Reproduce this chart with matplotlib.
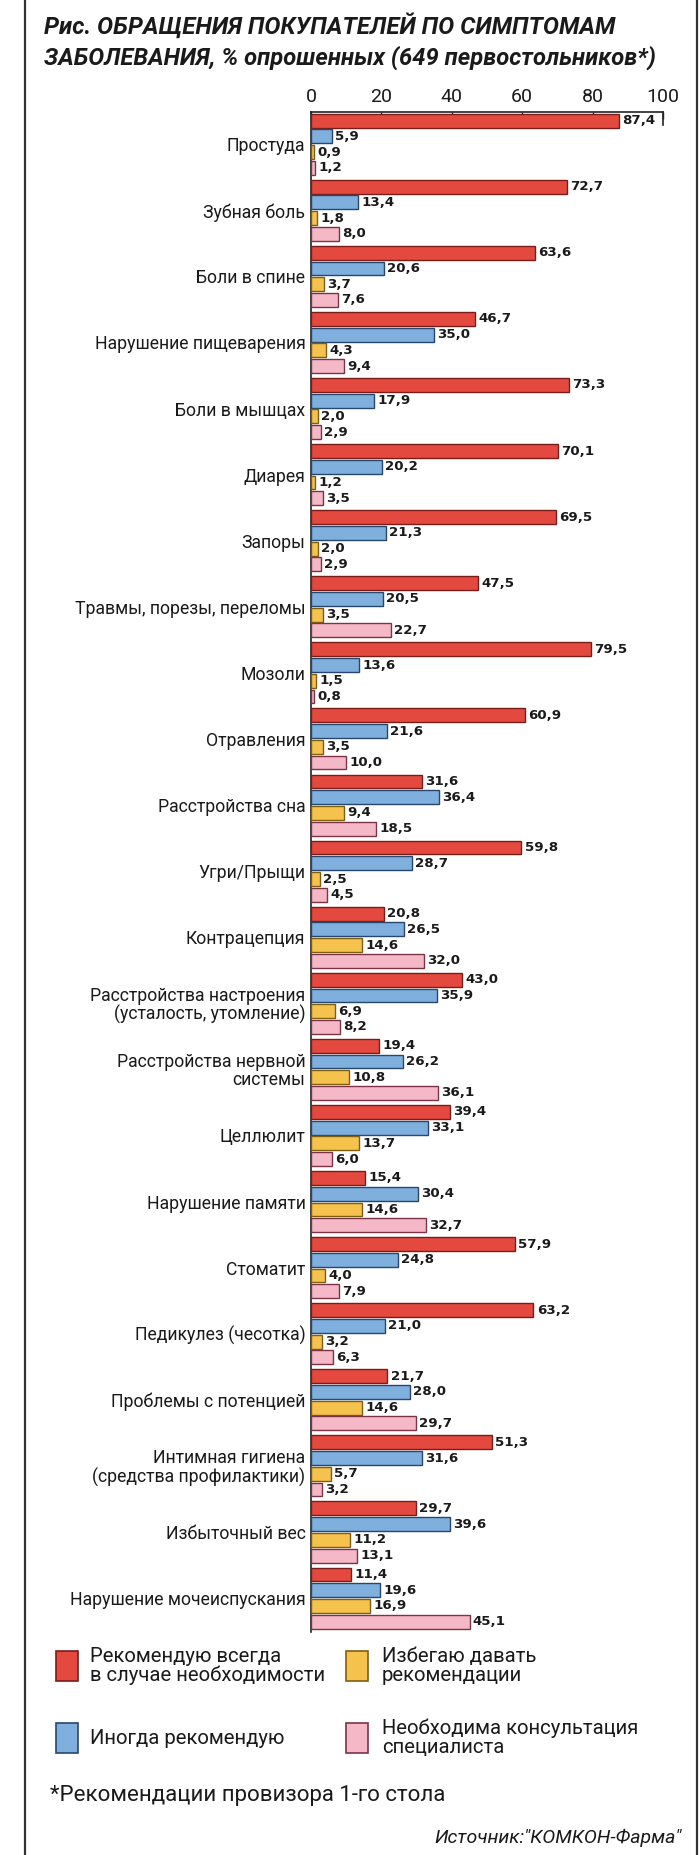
import matplotlib
matplotlib.use("Agg")
import matplotlib.pyplot as plt
from matplotlib.patches import Rectangle
from matplotlib.lines import Line2D

categories = [
    "Простуда", "Зубная боль", "Боли в спине", "Нарушение пищеварения",
    "Боли в мышцах", "Диарея", "Запоры", "Травмы, порезы, переломы",
    "Мозоли", "Отравления", "Расстройства сна", "Угри/Прыщи", "Контрацепция",
    "Расстройства настроения\n(усталость, утомление)",
    "Расстройства нервной\nсистемы", "Целлюлит", "Нарушение памяти",
    "Стоматит", "Педикулез (чесотка)", "Проблемы с потенцией",
    "Интимная гигиена\n(средства профилактики)", "Избыточный вес",
    "Нарушение мочеиспускания",
]
always = [87.4, 72.7, 63.6, 46.7, 73.3, 70.1, 69.5, 47.5, 79.5, 60.9, 31.6,
          59.8, 20.8, 43.0, 19.4, 39.4, 15.4, 57.9, 63.2, 21.7, 51.3, 29.7, 11.4]
sometimes = [5.9, 13.4, 20.6, 35.0, 17.9, 20.2, 21.3, 20.5, 13.6, 21.6, 36.4,
             28.7, 26.5, 35.9, 26.2, 33.1, 30.4, 24.8, 21.0, 28.0, 31.6, 39.6, 19.6]
avoid = [0.9, 1.8, 3.7, 4.3, 2.0, 1.2, 2.0, 3.5, 1.5, 3.5, 9.4, 2.5, 14.6,
         6.9, 10.8, 13.7, 14.6, 4.0, 3.2, 14.6, 5.7, 11.2, 16.9]
specialist = [1.2, 8.0, 7.6, 9.4, 2.9, 3.5, 2.9, 22.7, 0.8, 10.0, 18.5, 4.5,
              32.0, 8.2, 36.1, 6.0, 32.7, 7.9, 6.3, 29.7, 3.2, 13.1, 45.1]
series_names = ["Рекомендую всегда\nв случае необходимости", "Иногда рекомендую",
                "Избегаю давать\nрекомендации", "Необходима консультация\nспециалиста"]
ticks = [0, 20, 40, 60, 80, 100]

fills = ["#e4493f", "#7fafdd", "#f6c24e", "#f4b8c6"]
edges = ["#7a1d18", "#27476e", "#7d5f12", "#7d3347"]

narrow = ["Roboto", "DejaVu Sans"]
plt.rcParams["font.family"] = ["Roboto", "DejaVu Sans"]

W, H = 700, 1855
fig = plt.figure(figsize=(W / 100, H / 100), dpi=100)
fig.patch.set_facecolor("white")

def fx(px):
    return px / W

def fy(py):
    return 1 - py / H

# frame lines
fig.add_artist(Line2D([fx(25), fx(25)], [0, 1], color="#333333", lw=1.6))
fig.add_artist(Line2D([fx(697), fx(697)], [0, 1], color="#333333", lw=1.6))

# title
fig.text(fx(44), fy(26), "Рис. ОБРАЩЕНИЯ ПОКУПАТЕЛЕЙ ПО СИМПТОМАМ",
         fontsize=17.3, fontweight="bold", fontstyle="italic", va="center",
         ha="left", color="#1a1a1a", family=narrow)
fig.text(fx(44), fy(58), "ЗАБОЛЕВАНИЯ, % опрошенных (649 первостольников*)",
         fontsize=17.1, fontweight="bold", fontstyle="italic", va="center",
         ha="left", color="#1a1a1a", family=narrow)

ax_left, ax_right, ax_top, ax_bot = 311, 663, 112, 1632
ax = fig.add_axes([fx(ax_left), fy(ax_bot), fx(ax_right - ax_left),
                   (ax_bot - ax_top) / H])
n = len(categories)
ax.set_xlim(0, 100)
ax.set_ylim(n, 0)

series = [always, sometimes, avoid, specialist]
bar_h = 0.21
pitch = 0.238
first = 0.13
for j, vals in enumerate(series):
    ys = [i + first + j * pitch for i in range(n)]
    ax.barh(ys, vals, height=bar_h, color=fills[j], edgecolor=edges[j],
            linewidth=1.0, zorder=3)
    for y, v in zip(ys, vals):
        ax.text(v + 0.9, y, f"{v:.1f}".replace(".", ","), va="center",
                ha="left", fontsize=9.6, fontweight="bold", color="#1a1a1a",
                family=["DejaVu Sans"])

centers = [i + first + 1.5 * pitch for i in range(n)]
ax.set_yticks(centers)
ax.set_yticklabels(categories, fontsize=12.7, family=narrow, color="#1a1a1a",
                   linespacing=1.0)
ax.tick_params(axis="y", length=0, pad=4)

ax.xaxis.tick_top()
ax.set_xticks(ticks)
ax.set_xticklabels([str(t) for t in ticks], fontsize=14, family=narrow,
                   color="#1a1a1a")
ax.tick_params(axis="x", direction="in", length=5, width=1, pad=4,
               color="#222222")
for s in ["right", "bottom"]:
    ax.spines[s].set_visible(False)
for s in ["top", "left"]:
    ax.spines[s].set_color("#222222")
    ax.spines[s].set_linewidth(1.2)
ax.plot([100, 100], [0, 0.2], color="#222222", lw=1.2, clip_on=False, zorder=4)
ax.set_facecolor("none")

# legend
leg_items = [
    (0, 56, 1666, 90),
    (2, 346, 1666, 382),
    (1, 56, 1738, 90),
    (3, 346, 1738, 382),
]
sq_w, sq_h = 22, 30
for j, sx, cy, tx in leg_items:
    fig.add_artist(Rectangle((fx(sx), fy(cy + sq_h / 2)), sq_w / W, sq_h / H,
                             facecolor=fills[j], edgecolor=edges[j], lw=1.2,
                             transform=fig.transFigure))
    fig.text(fx(tx), fy(cy), series_names[j], fontsize=14.6, family=narrow,
             va="center", ha="left", color="#1a1a1a", linespacing=1.0)

fig.text(fx(50), fy(1795), "*Рекомендации провизора 1-го стола",
         fontsize=16, family=narrow, va="center", ha="left", color="#1a1a1a")
fig.text(fx(682), fy(1838), "Источник:\"КОМКОН-Фарма\"", fontsize=14,
         family=narrow, fontstyle="italic", va="center", ha="right",
         color="#1a1a1a")

fig.savefig("out.png", dpi=100, facecolor="white")
